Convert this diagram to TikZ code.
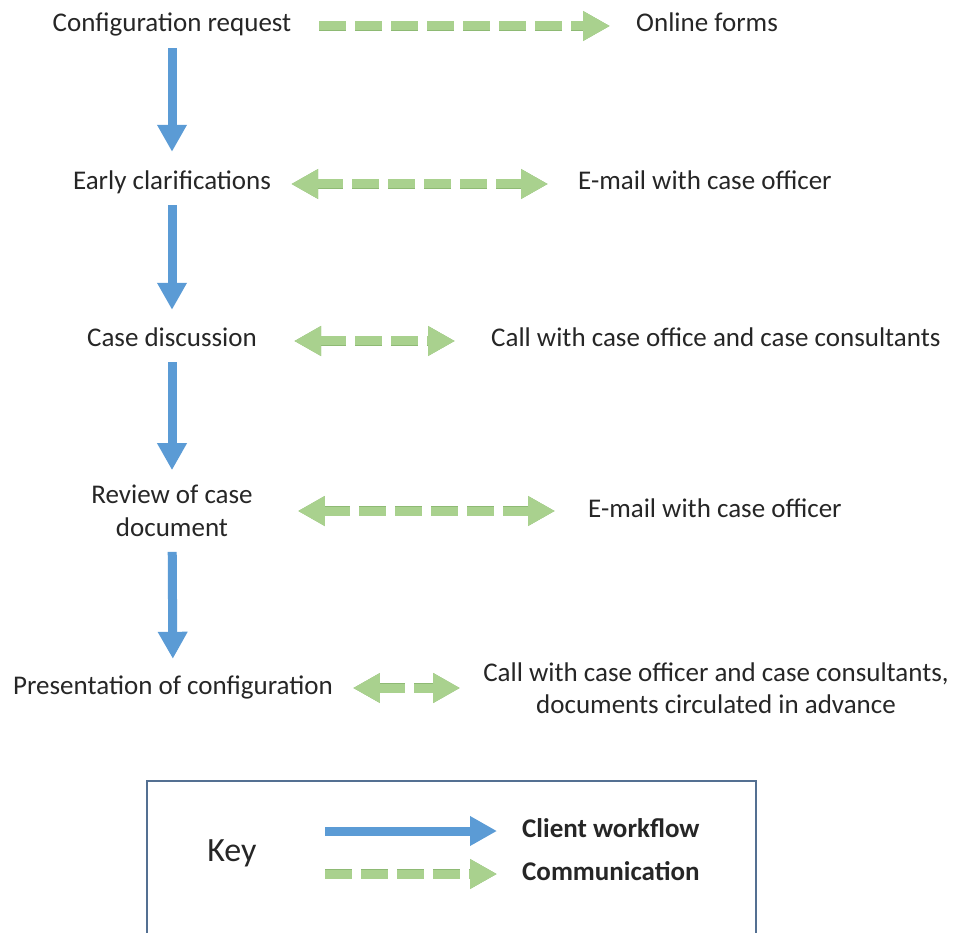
\documentclass[tikz,border=0pt]{standalone}
\usepackage{fontspec}
\setmainfont{Carlito}
\usetikzlibrary{arrows.meta}
\definecolor{flowblue}{RGB}{91,155,213}
\definecolor{commgreen}{RGB}{169,209,142}
\definecolor{commedge}{RGB}{142,186,116}
\definecolor{keyframe}{RGB}{84,112,146}
\definecolor{txt}{RGB}{38,38,38}

\begin{document}
\begin{tikzpicture}[x=1pt, y=1pt,
    lbl/.style={inner sep=0pt, text=txt, font=\fontsize{27pt}{32.5pt}\selectfont, text height=19pt, text depth=7pt},
    lbltwo/.style={inner sep=0pt, text=txt, align=center, font=\fontsize{27pt}{32.5pt}\selectfont},
    flow/.style={draw=flowblue, line width=9pt, -{Triangle[length=27pt, width=28pt]}},
    comm/.style={draw=commgreen, line width=9pt, dash pattern=on 27pt off 9pt,
        preaction={draw=commedge, line width=10.5pt, dash pattern=on 27pt off 9pt},
        -{Triangle[length=27pt, width=28pt]}},
    commboth/.style={comm, {Triangle[length=27pt, width=28pt]}-{Triangle[length=27pt, width=28pt]}}]
    \useasboundingbox (0,0) rectangle (954,-933);

    % workflow steps
    \node[lbl] (cfgreq) at (172,-26) {Configuration request};
    \node[lbl] (early) at (172,-184) {Early clarifications};
    \node[lbl] (casedisc) at (172,-341) {Case discussion};
    \node[lbltwo] (review) at (172,-511) {Review of case\\document};
    \node[lbl] (present) at (173,-688) {Presentation of configuration};

    % communication channels
    \node[lbl, anchor=west] (online) at (636,-26) {Online forms};
    \node[lbl, anchor=west] (mail1) at (578,-184) {E-mail with case officer};
    \node[lbl, anchor=west] (callcase) at (491,-341) {Call with case office and case consultants};
    \node[lbl, anchor=west] (mail2) at (588,-511) {E-mail with case officer};
    \node[lbltwo] (callpres) at (716,-688) {Call with case officer and case consultants,\\documents circulated in advance};

    % client workflow
    \draw[flow, shorten <=9pt, shorten >=19pt] (cfgreq) -- (early);
    \draw[flow, shorten <=8pt, shorten >=18pt] (early) -- (casedisc);
    \draw[flow, shorten <=8pt, shorten >=15pt] (casedisc) -- (review);
    \draw[flow, shorten <=15pt, shorten >=16pt] (review) -- (present);

    % communication
    \draw[comm, shorten <=28pt, shorten >=26pt] (cfgreq) -- (online);
    \draw[commboth, shorten <=20pt, shorten >=30pt] (early) -- (mail1);
    \draw[commboth, shorten <=37pt, shorten >=36pt] (casedisc) -- (callcase);
    \draw[commboth, shorten <=45pt, shorten >=33pt] (review) -- (mail2);
    \draw[commboth, shorten <=20pt, shorten >=23pt] (present) -- (callpres);

    % key
    \draw[keyframe, line width=2.5pt] (147,-933) -- (147,-781) -- (756,-781) -- (756,-933);
    \node[inner sep=0pt, text=txt, font=\fontsize{34pt}{40pt}\selectfont] (keylbl) at (232,-853) {Key};
    \coordinate (kflowstart) at (325,-831);
    \coordinate (kcommstart) at (325,-874);
    \node[lbl, anchor=west, font=\fontsize{27pt}{32.5pt}\selectfont\bfseries] (kflow) at (522,-831) {Client workflow};
    \node[lbl, anchor=west, font=\fontsize{27pt}{32.5pt}\selectfont\bfseries] (kcomm) at (522,-874) {Communication};
    \draw[flow, shorten >=25pt] (kflowstart) -- (kflow);
    \draw[comm, shorten >=25pt] (kcommstart) -- (kcomm);
\end{tikzpicture}
\end{document}
